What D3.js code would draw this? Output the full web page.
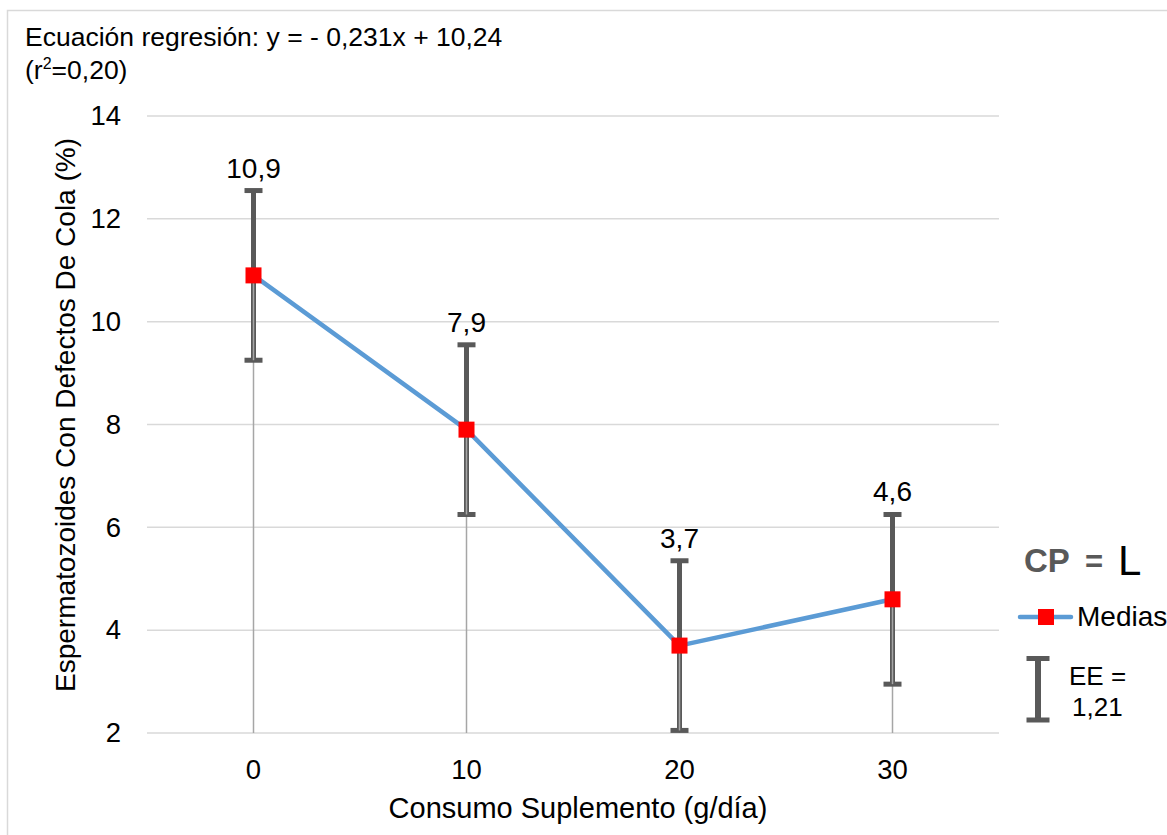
<!DOCTYPE html>
<html><head><meta charset="utf-8">
<script src="https://cdn.jsdelivr.net/npm/d3@7/dist/d3.min.js"></script>
<style>body{margin:0;background:#fff}svg{display:block;font-family:"Liberation Sans",Arial,sans-serif}</style>
</head><body><svg id="c" width="1167" height="835"></svg>
<script>
const categories = ["0","10","20","30"];
const medias = [10.9, 7.9, 3.7, 4.6];
const ee = [1.65, 1.65, 1.65, 1.65];
const labels = ["10,9","7,9","3,7","4,6"];
const yTicks = [2,4,6,8,10,12,14];

const FF = "Liberation Sans, Arial, sans-serif";
const svg = d3.select("#c");
const m = {l:147, r:999, t:116, b:733};
const x = d3.scaleBand().domain(categories).range([m.l, m.r]);
const y = d3.scaleLinear().domain([2,14]).range([m.b, m.t]);
const cx = d => x(d) + x.bandwidth()/2;

// border
svg.append("rect").attr("x",7.5).attr("y",10.5).attr("width",1180).attr("height",840)
  .attr("fill","none").attr("stroke","#d9d9d9").attr("stroke-width",1.5);

// title
svg.append("text").attr("x",25).attr("y",46).attr("font-size",26.5).attr("fill","#000")
  .text("Ecuación regresión: y = - 0,231x + 10,24");
const t2 = svg.append("text").attr("x",25).attr("y",79).attr("font-size",26.5).attr("fill","#000");
t2.append("tspan").text("(r");
t2.append("tspan").attr("font-size",16).attr("dy",-10).text("2");
t2.append("tspan").attr("dy",10).text("=0,20)");

// gridlines
svg.append("g").selectAll("line").data(yTicks).join("line")
  .attr("x1",m.l).attr("x2",m.r).attr("y1",d=>y(d)).attr("y2",d=>y(d))
  .attr("stroke","#d9d9d9").attr("stroke-width",1.5);

// y axis labels
const yAxis = d3.axisLeft(y).tickValues(yTicks).tickSize(0).tickPadding(0);
const gy = svg.append("g").attr("transform",`translate(${m.l-26},0)`).call(yAxis);
gy.select(".domain").remove();
gy.selectAll("text").attr("font-size",27.5).attr("fill","#000").attr("font-family",FF);

// x axis labels
const xAxis = d3.axisBottom(x).tickSize(0).tickPadding(0);
const gx = svg.append("g").attr("transform",`translate(0,${m.b+26})`).call(xAxis);
gx.select(".domain").remove();
gx.selectAll("text").attr("font-size",27.5).attr("fill","#000").attr("dy","0.71em").attr("font-family",FF);

// axis titles
svg.append("text").attr("x",(m.l+m.r)/2+5).attr("y",818).attr("text-anchor","middle")
  .attr("font-size",29).attr("fill","#000").text("Consumo Suplemento (g/día)");
svg.append("text").attr("transform",`translate(75,415) rotate(-90)`).attr("text-anchor","middle")
  .attr("font-size",28).attr("fill","#000").text("Espermatozoides Con Defectos De Cola (%)");

// drop lines
svg.append("g").selectAll("line").data(categories).join("line")
  .attr("x1",d=>cx(d)).attr("x2",d=>cx(d)).attr("y1",(d,i)=>y(medias[i])).attr("y2",m.b)
  .attr("stroke","#a6a6a6").attr("stroke-width",1.5);

// error bars
const eg = svg.append("g").attr("stroke","#595959").attr("stroke-width",5);
categories.forEach((c,i)=>{
  const X = cx(c), top = y(medias[i]+ee[i]), bot = y(medias[i]-ee[i]);
  eg.append("line").attr("x1",X).attr("x2",X).attr("y1",top).attr("y2",bot);
  eg.append("line").attr("x1",X-9).attr("x2",X+9).attr("y1",top).attr("y2",top);
  eg.append("line").attr("x1",X-9).attr("x2",X+9).attr("y1",bot).attr("y2",bot);
});
// drop line visible over error bar (lighter inner line)
svg.append("g").selectAll("line").data(categories).join("line")
  .attr("x1",d=>cx(d)).attr("x2",d=>cx(d)).attr("y1",(d,i)=>y(medias[i])).attr("y2",(d,i)=>y(medias[i]-ee[i]))
  .attr("stroke","#a6a6a6").attr("stroke-width",1.5);

// line
const line = d3.line().x((d,i)=>cx(categories[i])).y(d=>y(d));
svg.append("path").datum(medias).attr("d",line).attr("fill","none")
  .attr("stroke","#5b9bd5").attr("stroke-width",4.5).attr("stroke-linejoin","round");

// markers
svg.append("g").selectAll("rect").data(medias).join("rect")
  .attr("x",(d,i)=>cx(categories[i])-8).attr("y",d=>y(d)-8).attr("width",16).attr("height",16)
  .attr("fill","#ff0000");

// data labels
svg.append("g").selectAll("text").data(medias).join("text")
  .attr("x",(d,i)=>cx(categories[i])).attr("y",(d,i)=>y(d+ee[i])-13)
  .attr("text-anchor","middle").attr("font-size",28).attr("fill","#000").text((d,i)=>labels[i]);

// legend
svg.append("text").attr("x",1024).attr("y",572).attr("font-size",33).attr("font-weight","bold")
  .attr("fill","#595959").text("CP");
svg.append("text").attr("x",1085).attr("y",572).attr("font-size",31).attr("font-weight","bold")
  .attr("fill","#595959").text("=");
svg.append("text").attr("x",1118).attr("y",575).attr("font-size",42).attr("fill","#000").text("L");
svg.append("line").attr("x1",1020).attr("x2",1071).attr("y1",617).attr("y2",617)
  .attr("stroke","#5b9bd5").attr("stroke-width",4.5).attr("stroke-linecap","round");
svg.append("rect").attr("x",1038).attr("y",609).attr("width",16).attr("height",16).attr("fill","#ff0000");
svg.append("text").attr("x",1077).attr("y",626).attr("font-size",28).attr("fill","#000").text("Medias");
const lg = svg.append("g").attr("stroke","#595959");
lg.append("line").attr("x1",1038).attr("x2",1038).attr("y1",656).attr("y2",722).attr("stroke-width",6);
lg.append("line").attr("x1",1026.5).attr("x2",1049.5).attr("y1",658.5).attr("y2",658.5).attr("stroke-width",5);
lg.append("line").attr("x1",1026.5).attr("x2",1049.5).attr("y1",720).attr("y2",720).attr("stroke-width",5);
svg.append("text").attr("x",1069).attr("y",685).attr("font-size",26).attr("fill","#000").text("EE =");
svg.append("text").attr("x",1072).attr("y",716).attr("font-size",26).attr("fill","#000").text("1,21");
</script></body></html>
